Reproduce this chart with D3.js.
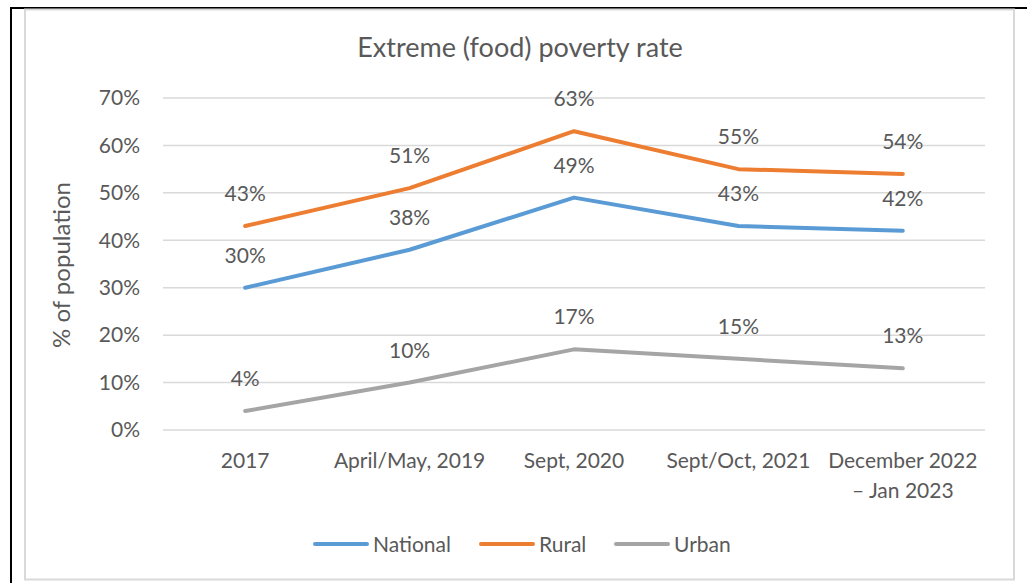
<!DOCTYPE html>
<html>
<head>
<meta charset="utf-8">
<script src="https://cdn.jsdelivr.net/npm/d3@7"></script>
<style>
  html, body { margin: 0; padding: 0; background: #fff; }
  svg { display: block; }
  text { font-family: Lato, "Open Sans", sans-serif; fill: #595959; }
</style>
</head>
<body>
<svg id="chart" width="1027" height="583"></svg>
<script>
// Extreme (food) poverty rate, % of population
const periods = ["2017", "April/May, 2019", "Sept, 2020", "Sept/Oct, 2021", "December 2022|– Jan 2023"];
const national = [30, 38, 49, 43, 42];
const rural = [43, 51, 63, 55, 54];
const urban = [4, 10, 17, 15, 13];
const yTicks = [0, 10, 20, 30, 40, 50, 60, 70];
const seriesNames = ["National", "Rural", "Urban"];
const seriesColors = ["#5B9BD5", "#ED7D31", "#A5A5A5"];

const series = [
  { name: seriesNames[0], values: national, color: seriesColors[0] },
  { name: seriesNames[1], values: rural, color: seriesColors[1] },
  { name: seriesNames[2], values: urban, color: seriesColors[2] }
];

const svg = d3.select("#chart");

// page frame lines
svg.append("line").attr("x1", 10).attr("x2", 1027).attr("y1", 8).attr("y2", 8)
  .attr("stroke", "#000").attr("stroke-width", 2);
svg.append("line").attr("x1", 11).attr("x2", 11).attr("y1", 7).attr("y2", 583)
  .attr("stroke", "#000").attr("stroke-width", 2);

// chart area border
svg.append("rect").attr("x", 25).attr("y", 9.5).attr("width", 989).attr("height", 570)
  .attr("fill", "#fff").attr("stroke", "#D9D9D9").attr("stroke-width", 2);

const plotLeft = 163, plotRight = 985, plotTop = 98, plotBottom = 430;

const x = d3.scaleBand().domain(periods).range([plotLeft, plotRight]);
const y = d3.scaleLinear().domain([0, 70]).range([plotBottom, plotTop]);
const cx = d => x(d) + x.bandwidth() / 2;

// title
svg.append("text").attr("x", 520).attr("y", 57).attr("text-anchor", "middle")
  .style("font-size", "27px").text("Extreme (food) poverty rate");

// gridlines
svg.append("g").selectAll("line").data(yTicks).join("line")
  .attr("x1", plotLeft).attr("x2", plotRight)
  .attr("y1", d => y(d)).attr("y2", d => y(d))
  .attr("stroke", "#D9D9D9").attr("stroke-width", 1.5);

// y axis labels
const yAxis = svg.append("g").attr("transform", `translate(${plotLeft},0)`)
  .call(d3.axisLeft(y).tickValues(yTicks).tickFormat(d => d + "%").tickSize(0).tickPadding(23));
yAxis.select(".domain").remove();
yAxis.selectAll("text").style("font-size", "21px").attr("fill", "#595959")
  .style("font-family", "Lato, 'Open Sans', sans-serif");

// y axis title
svg.append("text").attr("transform", "translate(70,265) rotate(-90)")
  .attr("text-anchor", "middle").style("font-size", "24px").text("% of population");

// x axis labels (multi-line where needed)
const xl = svg.append("g").selectAll("text").data(periods).join("text")
  .attr("x", d => cx(d)).attr("y", 468).attr("text-anchor", "middle")
  .style("font-size", "21px");
xl.each(function(d) {
  const parts = d.split("|");
  d3.select(this).selectAll("tspan").data(parts).join("tspan")
    .attr("x", cx(d)).attr("dy", (p, i) => i === 0 ? 0 : 30).text(p => p);
});

// lines
const line = d3.line().x((v, i) => cx(periods[i])).y(v => y(v));
svg.append("g").selectAll("path").data(series).join("path")
  .attr("d", s => line(s.values)).attr("fill", "none")
  .attr("stroke", s => s.color).attr("stroke-width", 4)
  .attr("stroke-linejoin", "round").attr("stroke-linecap", "round");

// data labels
series.forEach(s => {
  svg.append("g").selectAll("text").data(s.values).join("text")
    .attr("x", (v, i) => cx(periods[i])).attr("y", v => y(v) - 25)
    .attr("text-anchor", "middle").style("font-size", "21px")
    .text(v => v + "%");
});

// legend
const legendItems = [
  { name: seriesNames[0], color: seriesColors[0], x: 315 },
  { name: seriesNames[1], color: seriesColors[1], x: 481 },
  { name: seriesNames[2], color: seriesColors[2], x: 616 }
];
const lg = svg.append("g").selectAll("g").data(legendItems).join("g")
  .attr("transform", d => `translate(${d.x},544)`);
lg.append("line").attr("x1", 0).attr("x2", 52).attr("y1", 0).attr("y2", 0)
  .attr("stroke", d => d.color).attr("stroke-width", 4).attr("stroke-linecap", "round");
lg.append("text").attr("x", 58).attr("y", 8).style("font-size", "21px").text(d => d.name);
</script>
</body>
</html>
